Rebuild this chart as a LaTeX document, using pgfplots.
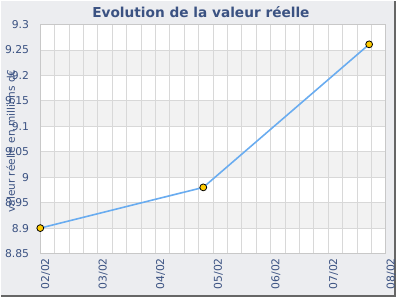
\documentclass[border=0pt]{standalone}
\usepackage{pgfplots}
\pgfplotsset{compat=1.18}
\usepackage{fontspec}
\setmainfont{DejaVu Sans}
\definecolor{bgc}{RGB}{236,237,240}
\definecolor{band}{RGB}{242,242,242}
\definecolor{gridc}{RGB}{216,216,216}
\definecolor{framec}{RGB}{200,200,200}
\definecolor{txt}{RGB}{59,82,130}
\definecolor{linec}{RGB}{105,172,240}
\definecolor{markc}{RGB}{255,204,0}
\begin{document}
\begin{tikzpicture}
\fill[bgc] (0pt,0pt) rectangle (300pt,225pt);
\draw[black!60, line width=1.2pt] (0pt,0.6pt) -- (299.4pt,0.6pt) -- (299.4pt,225pt);
\node[font=\bfseries\fontsize{10.4}{12}\selectfont, text=txt] at (152pt,216.5pt) {Evolution de la valeur réelle};
\node[font=\fontsize{8}{9}\selectfont, text=txt, rotate=90] at (7.5pt,118.5pt) {valeur réelle en millions d€};
% background bands
\begin{axis}[
  at={(30pt,33pt)}, anchor=south west,
  scale only axis, width=262.5pt, height=174pt,
  xmin=0, xmax=6, ymin=8.85, ymax=9.3,
  axis lines=none, ticks=none,
  axis background/.style={fill=white},
]
\addplot[fill=band, draw=none] coordinates {(0,8.9) (6,8.9) (6,8.95) (0,8.95)} -- cycle;
\addplot[fill=band, draw=none] coordinates {(0,9.0) (6,9.0) (6,9.05) (0,9.05)} -- cycle;
\addplot[fill=band, draw=none] coordinates {(0,9.1) (6,9.1) (6,9.15) (0,9.15)} -- cycle;
\addplot[fill=band, draw=none] coordinates {(0,9.2) (6,9.2) (6,9.25) (0,9.25)} -- cycle;
\end{axis}
\begin{axis}[
  at={(30pt,33pt)}, anchor=south west,
  scale only axis, width=262.5pt, height=174pt,
  xmin=0, xmax=6, ymin=8.85, ymax=9.3,
  xtick={0,1,2,3,4,5,6},
  xticklabels={02/02,03/02,04/02,05/02,06/02,07/02,08/02},
  minor x tick num=3,
  ytick={8.85,8.9,8.95,9,9.05,9.1,9.15,9.2,9.25,9.3},
  yticklabels={8.85,8.9,8.95,9,9.05,9.1,9.15,9.2,9.25,9.3},
  grid=both,
  major grid style={gridc, line width=0.6pt},
  minor grid style={gridc, line width=0.6pt},
  major tick length=0pt, minor tick length=0pt,
  axis line style={framec, line width=0.8pt},
  tick label style={font=\fontsize{8.2}{9}\selectfont, text=txt},
  xticklabel style={rotate=90, anchor=east, yshift=-4pt},
  yticklabel style={xshift=-5pt},
  clip=false,
]
\addplot[linec, line width=1.2pt, mark=*, mark size=2.6pt,
  mark options={fill=markc, draw=black, line width=0.6pt}]
  coordinates {(0,8.9) (2.83,8.98) (5.71,9.261)};
\end{axis}
\end{tikzpicture}
\end{document}
